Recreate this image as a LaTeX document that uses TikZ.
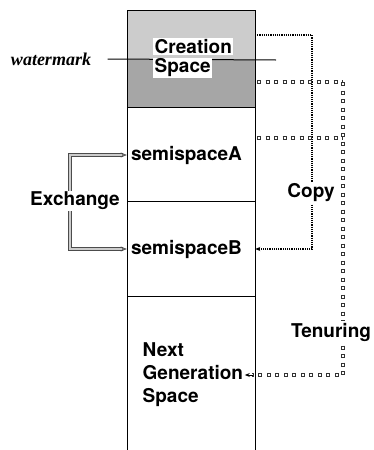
\documentclass[tikz,border=0pt]{standalone}
\usepackage{fontspec}
\setsansfont{TeX Gyre Heros}
\newfontfamily\wmfont{Liberation Serif}
\usetikzlibrary{arrows.meta}

\begin{document}
\begin{tikzpicture}[x=1pt, y=-1pt,
    lbl/.style={font=\sffamily\bfseries\fontsize{19}{23}\selectfont, inner sep=1.5pt},
    area/.style={lbl, text width=120pt, align=left, inner xsep=4pt},
    tag/.style={lbl, fill=white},
    xch/.style={draw=black!70, double=gray!40, line width=.7pt, double distance=2pt},
    cpy/.style={densely dotted, line width=1.2pt},
    tenure/.style={draw=black!80, line width=3.8pt, dash pattern=on 4pt off 4.5pt,
        postaction={draw=white, line width=1.6pt, dash pattern=on 2pt off 6.5pt, dash phase=7.5pt}}
]

\useasboundingbox (0,0) rectangle (373,450);

% creation space shading
\fill[gray!40] (127,10) rectangle (255,60);
\fill[gray!70] (127,60) rectangle (255,107);

% the column
\draw[line width=1pt] (127,450) -- (127,10) -- (255,10) -- (255,450);
\draw[line width=1pt] (127,107) -- (255,107);
\draw[line width=1pt] (127,201) -- (255,201);
\draw[line width=1pt] (127,296) -- (255,296);

% watermark
\node[font=\wmfont\bfseries\itshape\fontsize{18}{22}\selectfont] (wm) at (51,59) {watermark};
\coordinate (wmend) at (276,60);
\draw[line width=1pt] ([xshift=13pt]wm.east) -- (wmend);

% space names
\node[tag, anchor=west, inner ysep=1pt] (cre) at (153,46.5) {Creation};
\node[tag, anchor=west, inner ysep=1pt] (spc) at (153,68) {Space};
\node[area] (semA) at (191,155) {semispaceA};
\node[area] (semB) at (191,249) {semispaceB};
\node[lbl, anchor=west, align=left] (nxt) at (141,375) {Next\\Generation\\Space};

% exchange
\coordinate (xmid) at (70,201);
\draw[xch, {Stealth[open,length=6pt,width=5pt]}-{Stealth[open,length=6pt,width=5pt]}] (semA.west) -| (xmid) |- (semB.west);
\node[tag] (exch) at (75,201) {Exchange};

% copy
\coordinate (cp0) at (255,35);
\coordinate (cpx) at (312,150);
\draw[cpy, -{Stealth[open,length=5pt,width=4pt]}] (cp0) -| (cpx) |- (semB.east);
\node[tag] (copy) at (311,193) {Copy};

% tenuring
\coordinate (t1) at (257,82);
\coordinate (t2) at (257,138);
\coordinate (tc) at (343,82);
\draw[tenure] (t1) -- (tc);
\draw[tenure] (t2) -- (t2 -| tc);
\draw[tenure] (tc) |- ([xshift=7pt]nxt.east);
\draw[line width=.8pt, -{Stealth[open,length=5pt,width=4pt]}] ([xshift=8pt]nxt.east) -- (nxt.east);
\node[tag] (ten) at (331,332) {Tenuring};

\end{tikzpicture}
\end{document}
